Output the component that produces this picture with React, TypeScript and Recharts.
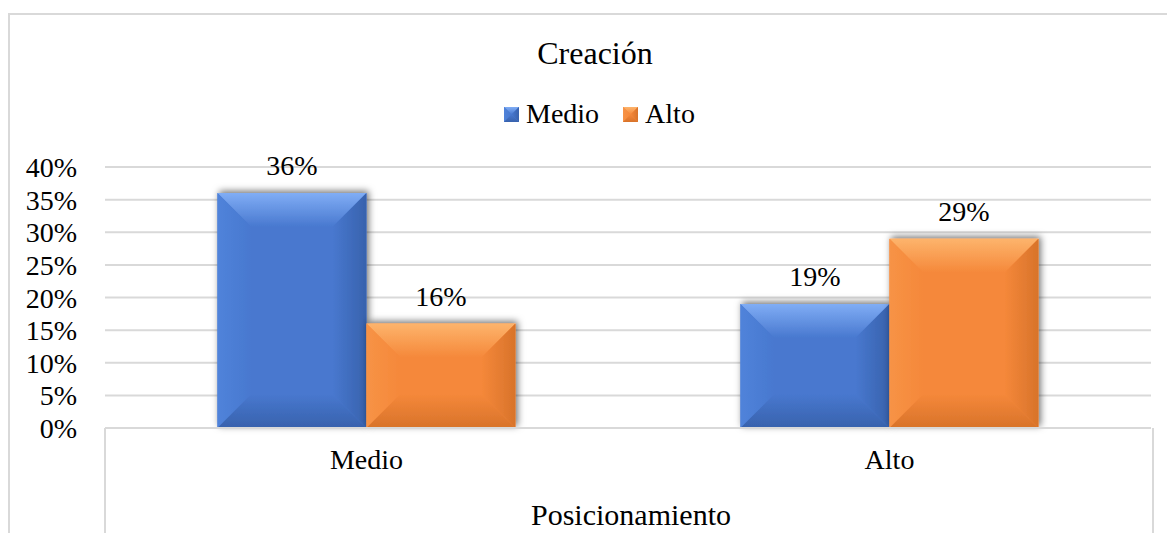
import React from 'react';
import { BarChart, Bar, XAxis, YAxis, CartesianGrid, LabelList } from 'recharts';

const categories = ['Medio', 'Alto'];
const seriesNames = ['Medio', 'Alto'];
const medioValues = [0.36, 0.19];
const altoValues = [0.16, 0.29];
const yTicks = [0, 0.05, 0.1, 0.15, 0.2, 0.25, 0.3, 0.35, 0.4];

const data = categories.map((name, i) => ({ name, Medio: medioValues[i], Alto: altoValues[i] }));

const FONT = "'Liberation Serif', 'Times New Roman', Times, Tinos";
const GRID = '#d9d9d9';

// palette for the bevelled look: base, light edge, dark edge
const tones: Record<string, { base: string; light: string; side: string; dark: string }> = {
  blue: { base: '#4878cf', light: '#80adf5', side: '#5083da', dark: '#3862ad' },
  orange: { base: '#f5883a', light: '#fdb46c', side: '#f79346', dark: '#d8732a' },
};

const pct = (v: number) => `${Math.round(v * 100)}%`;

const BevelBar = (props: any) => {
  const { x, y, width: w, height: h, tone, shadow = true } = props;
  if (!h || h <= 0) return null;
  const t = tones[tone];
  const b = Math.min(34, w / 2, h / 2);
  const pts = (arr: number[][]) => arr.map((p) => p.join(',')).join(' ');
  return (
    <g filter={shadow ? 'url(#barShadow)' : undefined}>
      <rect x={x} y={y} width={w} height={h} fill={t.base} />
      <polygon points={pts([[x, y], [x + w, y], [x + w - b, y + b], [x + b, y + b]])} fill={`url(#top-${tone})`} />
      <polygon points={pts([[x, y], [x + b, y + b], [x + b, y + h - b], [x, y + h]])} fill={`url(#left-${tone})`} />
      <polygon points={pts([[x + w, y], [x + w - b, y + b], [x + w - b, y + h - b], [x + w, y + h]])} fill={`url(#right-${tone})`} />
      <polygon points={pts([[x, y + h], [x + w, y + h], [x + w - b, y + h - b], [x + b, y + h - b]])} fill={`url(#bottom-${tone})`} />
    </g>
  );
};

const Defs = () => (
  <svg width={0} height={0} style={{ position: 'absolute' }}>
    <defs>
      <filter id="barShadow" x="-20%" y="-20%" width="140%" height="140%">
        <feDropShadow dx={2} dy={-2} stdDeviation={3.5} floodColor="#000" floodOpacity={0.55} />
      </filter>
      {Object.keys(tones).map((k) => (
        <React.Fragment key={k}>
          <linearGradient id={`top-${k}`} x1="0" y1="0" x2="0" y2="1">
            <stop offset="0" stopColor={tones[k].light} />
            <stop offset="1" stopColor={tones[k].base} />
          </linearGradient>
          <linearGradient id={`left-${k}`} x1="0" y1="0" x2="1" y2="0">
            <stop offset="0" stopColor={tones[k].side} />
            <stop offset="1" stopColor={tones[k].base} />
          </linearGradient>
          <linearGradient id={`right-${k}`} x1="1" y1="0" x2="0" y2="0">
            <stop offset="0" stopColor={tones[k].dark} />
            <stop offset="1" stopColor={tones[k].base} />
          </linearGradient>
          <linearGradient id={`bottom-${k}`} x1="0" y1="1" x2="0" y2="0">
            <stop offset="0" stopColor={tones[k].dark} />
            <stop offset="1" stopColor={tones[k].base} />
          </linearGradient>
        </React.Fragment>
      ))}
    </defs>
  </svg>
);

const YTick = ({ x, y, payload }: any) => (
  <text x={x} y={y} dy="0.36em" textAnchor="end" style={{ fontFamily: FONT }} fontSize={28} fill="#000">
    {pct(payload.value)}
  </text>
);

const XTick = ({ x, y, payload }: any) => (
  <text x={x} y={y + 33} textAnchor="middle" style={{ fontFamily: FONT }} fontSize={28} fill="#000">
    {payload.value}
  </text>
);

const LegendBox = () => (
  <div style={{ position: 'absolute', left: 504, top: 99, display: 'flex', alignItems: 'center', fontFamily: FONT, fontSize: 28, color: '#000' }}>
    {seriesNames.map((s, i) => {
      const tone = i === 0 ? 'blue' : 'orange';
      return (
        <div key={s} style={{ display: 'flex', alignItems: 'center', marginRight: i === 0 ? 24 : 0 }}>
          <svg width={15} height={15} style={{ marginRight: 7 }}>
            <BevelBar x={0} y={0} width={15} height={15} tone={tone} shadow={false} />
          </svg>
          <span style={{ lineHeight: '30px' }}>{s}</span>
        </div>
      );
    })}
  </div>
);

export default function App() {
  return (
    <div style={{ position: 'absolute', left: 0, top: 0, width: 1167, height: 533, background: '#fff', overflow: 'hidden', fontFamily: FONT }}>
      <Defs />
      {/* chart frame */}
      <div style={{ position: 'absolute', left: 8, top: 13, width: 1170, height: 530, borderLeft: `2px solid ${GRID}`, borderTop: `2px solid ${GRID}` }} />
      <div style={{ position: 'absolute', left: 0, width: 1190, top: 37, textAlign: 'center', fontSize: 32, lineHeight: '32px' }}>
        Creación
      </div>
      <LegendBox />
      <BarChart
        width={1167}
        height={533}
        data={data}
        margin={{ top: 167, right: 16, bottom: 0, left: 25 }}
        barCategoryGap="21.5%"
        barGap={0}
        style={{ fontFamily: FONT }}
      >
        <CartesianGrid vertical={false} stroke={GRID} strokeWidth={2} />
        <XAxis
          dataKey="name"
          height={105}
          axisLine={{ stroke: GRID, strokeWidth: 2 }}
          tickLine={false}
          tick={<XTick />}
          label={{ value: 'Posicionamiento', position: 'insideBottom', offset: 8, dx: 3, style: { fontFamily: FONT }, fontSize: 30, fill: '#000' }}
        />
        <YAxis
          width={80}
          domain={[0, 0.4]}
          ticks={yTicks}
          axisLine={false}
          tickLine={false}
          tickMargin={22}
          tick={<YTick />}
          interval={0}
        />
        <Bar dataKey="Medio" isAnimationActive={false} fill={tones.blue.base} shape={(p: any) => <BevelBar {...p} tone="blue" />}>
          <LabelList dataKey="Medio" position="top" offset={18} formatter={(v: any) => pct(v)} style={{ fontFamily: FONT, fontSize: 28, fill: '#000' }} />
        </Bar>
        <Bar dataKey="Alto" isAnimationActive={false} fill={tones.orange.base} shape={(p: any) => <BevelBar {...p} tone="orange" />}>
          <LabelList dataKey="Alto" position="top" offset={18} formatter={(v: any) => pct(v)} style={{ fontFamily: FONT, fontSize: 28, fill: '#000' }} />
        </Bar>
      </BarChart>
      {/* box under the category axis */}
      <div style={{ position: 'absolute', left: 104, top: 428, width: 1046, height: 110, borderLeft: `2px solid ${GRID}`, borderRight: `2px solid ${GRID}` }} />
    </div>
  );
}
